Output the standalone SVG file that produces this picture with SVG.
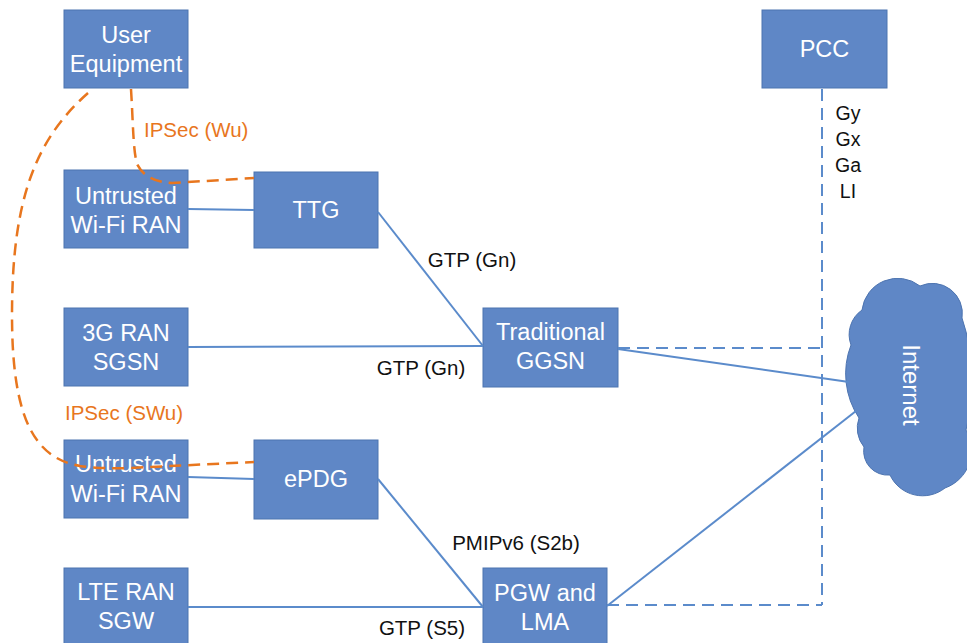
<svg xmlns="http://www.w3.org/2000/svg" width="967" height="643" viewBox="0 0 967 643">
  <style>
    .box { fill: #5F87C6; stroke: #4D74B0; stroke-width: 1; }
    .nt { font-family: "Liberation Sans", Arial, sans-serif; font-size: 23.5px; fill: #FFFFFF; text-anchor: middle; }
    .lbl { font-family: "Liberation Sans", Arial, sans-serif; font-size: 20.5px; fill: #111111; }
    .olbl { font-family: "Liberation Sans", Arial, sans-serif; font-size: 20.5px; fill: #E8761E; }
    .link { fill: none; stroke: #5B8BCB; stroke-width: 2; }
    .ctl { fill: none; stroke: #5B8BCB; stroke-width: 2; stroke-dasharray: 12 7; }
    .sec { fill: none; stroke: #E8761E; stroke-width: 2.5; stroke-dasharray: 12 7; }
  </style>
  <rect width="967" height="643" fill="#FFFFFF"/>

  <g id="ue">
    <rect class="box" x="64" y="10" width="124" height="78"/>
    <text class="nt" x="126" y="43">User</text>
    <text class="nt" x="126" y="72">Equipment</text>
  </g>
  <g id="wifi-ran-1">
    <rect class="box" x="64" y="170" width="124" height="78"/>
    <text class="nt" x="126" y="204">Untrusted</text>
    <text class="nt" x="126" y="233">Wi-Fi RAN</text>
  </g>
  <g id="ttg">
    <rect class="box" x="254" y="172" width="124" height="76"/>
    <text class="nt" x="316" y="218">TTG</text>
  </g>
  <g id="sgsn">
    <rect class="box" x="64" y="308" width="124" height="78"/>
    <text class="nt" x="126" y="341">3G RAN</text>
    <text class="nt" x="126" y="370">SGSN</text>
  </g>
  <g id="ggsn">
    <rect class="box" x="483" y="308" width="135" height="79"/>
    <text class="nt" x="550.5" y="340">Traditional</text>
    <text class="nt" x="550.5" y="369">GGSN</text>
  </g>
  <g id="wifi-ran-2">
    <rect class="box" x="64" y="440" width="124" height="78"/>
    <text class="nt" x="126" y="472">Untrusted</text>
    <text class="nt" x="126" y="502">Wi-Fi RAN</text>
  </g>
  <g id="epdg">
    <rect class="box" x="254" y="440" width="124" height="79"/>
    <text class="nt" x="316" y="487">ePDG</text>
  </g>
  <g id="sgw">
    <rect class="box" x="64" y="568" width="124" height="80"/>
    <text class="nt" x="126" y="600">LTE RAN</text>
    <text class="nt" x="126" y="629">SGW</text>
  </g>
  <g id="pgw">
    <rect class="box" x="483" y="568" width="124" height="80"/>
    <text class="nt" x="545" y="601">PGW and</text>
    <text class="nt" x="545" y="630">LMA</text>
  </g>
  <g id="pcc">
    <rect class="box" x="762" y="10" width="125" height="78"/>
    <text class="nt" x="824.5" y="57">PCC</text>
  </g>
  <g id="internet">
    <path class="box" d="M 862 310
      A 36 36 0 0 1 920 286
      A 30 30 0 0 1 962 318
      A 200 200 0 0 1 966 430
      A 40 40 0 0 1 945 488
      A 36 36 0 0 1 890 475
      A 24 24 0 0 1 864 447
      A 30 30 0 0 1 859 418
      A 80 80 0 0 1 851 345
      A 30 30 0 0 1 862 310 Z"/>
    <text class="nt" x="0" y="0" transform="translate(903 385) rotate(90)" style="font-size:24px">Internet</text>
  </g>

  <g id="connectors">
    <!-- bearer links -->
    <line class="link" x1="188" y1="209" x2="254" y2="210"/>
    <line class="link" x1="378" y1="212" x2="483" y2="346"/>
    <line class="link" x1="188" y1="347" x2="483" y2="346"/>
    <line class="link" x1="618" y1="349" x2="849" y2="382"/>
    <line class="link" x1="188" y1="477" x2="254" y2="479"/>
    <line class="link" x1="378" y1="479" x2="483" y2="607"/>
    <line class="link" x1="188" y1="607" x2="483" y2="607"/>
    <line class="link" x1="607" y1="606" x2="856" y2="411"/>
    <!-- control interfaces to PCC -->
    <line class="ctl" x1="822" y1="89" x2="822" y2="605"/>
    <line class="ctl" x1="618" y1="348" x2="822" y2="348"/>
    <line class="ctl" x1="607" y1="605" x2="822" y2="605"/>
    <!-- IPSec tunnels -->
    <path class="sec" d="M 131 89 C 133 120 133 150 137 164 Q 146 182 172 183 L 254 178"/>
    <path class="sec" d="M 88 93 C 35 140 12 200 12 315 C 12 420 35 458 80 466 Q 100 469 130 468 L 254 462"/>
  </g>

  <g id="labels">
    <text class="olbl" x="144" y="137">IPSec (Wu)</text>
    <text class="olbl" x="65" y="420">IPSec (SWu)</text>
    <text class="lbl" x="472" y="267" text-anchor="middle">GTP (Gn)</text>
    <text class="lbl" x="421" y="375" text-anchor="middle">GTP (Gn)</text>
    <text class="lbl" x="516" y="550" text-anchor="middle">PMIPv6 (S2b)</text>
    <text class="lbl" x="422" y="635" text-anchor="middle">GTP (S5)</text>
    <g style="font-family:'Liberation Sans', Arial, sans-serif; font-size:19.5px; fill:#111111" text-anchor="middle">
      <text x="848" y="120">Gy</text>
      <text x="848" y="146">Gx</text>
      <text x="848" y="172">Ga</text>
      <text x="848" y="198">LI</text>
    </g>
  </g>
</svg>
